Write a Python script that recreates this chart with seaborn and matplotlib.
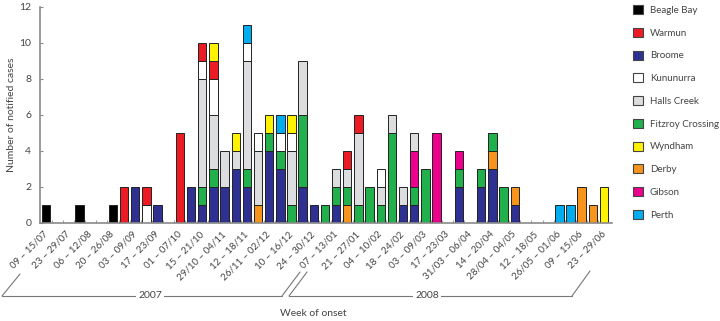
import numpy as np
import pandas as pd
import matplotlib
matplotlib.use("Agg")
import matplotlib.pyplot as plt
import seaborn as sns
from matplotlib.patches import Patch
from matplotlib.lines import Line2D

# ---------------- data ----------------
week_labels = ["09 – 15/07", "23 – 29/07", "06 – 12/08", "20 – 26/08", "03 – 09/09",
               "17 – 23/09", "01 – 07/10", "15 – 21/10", "29/10 – 04/11", "12 – 18/11",
               "26/11 – 02/12", "10 – 16/12", "24 – 30/12", "07 – 13/01", "21 – 27/01",
               "04 – 10/02", "18 – 24/02", "03 – 09/03", "17 – 23/03", "31/03 – 06/04",
               "14 – 20/04", "28/04 – 04/05", "12 – 18/05", "26/05 – 01/06", "09 – 15/06",
               "23 – 29/06"]

legend_order = ["Beagle Bay", "Warmun", "Broome", "Kununurra", "Halls Creek",
                "Fitzroy Crossing", "Wyndham", "Derby", "Gibson", "Perth"]

#                 weeks 0-9                    10-19                        20-29                        30-39                        40-50
beagle_bay  = [1,0,0,1,0,0,1,0,0,0,  0,0,0,0,0,0,0,0,0,0,  0,0,0,0,0,0,0,0,0,0,  0,0,0,0,0,0,0,0,0,0,  0,0,0,0,0,0,0,0,0,0,0]
warmun      = [0,0,0,0,0,0,0,2,0,1,  0,0,5,0,1,1,0,0,0,0,  0,0,0,0,0,0,0,1,1,0,  0,0,0,0,0,0,0,0,0,0,  0,0,0,0,0,0,0,0,0,0,0]
broome      = [0,0,0,0,0,0,0,0,2,0,  1,0,0,2,1,2,2,3,2,0,  4,3,0,2,1,0,1,0,0,0,  0,0,1,1,0,0,0,2,0,2,  3,0,1,0,0,0,0,0,0,0,0]
kununurra   = [0,0,0,0,0,0,0,0,0,1,  0,0,0,0,1,2,0,0,1,1,  0,1,1,0,0,0,0,0,0,0,  1,0,0,0,0,0,0,0,0,0,  0,0,0,0,0,0,0,0,0,0,0]
halls_creek = [0,0,0,0,0,0,0,0,0,0,  0,0,0,0,6,3,2,1,6,3,  0,0,3,3,0,0,1,1,4,0,  1,1,1,1,0,0,0,0,0,0,  0,0,0,0,0,0,0,0,0,0,0]
fitzroy     = [0,0,0,0,0,0,0,0,0,0,  0,0,0,0,1,1,0,0,1,0,  1,1,1,4,0,1,1,1,1,2,  1,5,0,1,3,0,0,1,0,1,  1,2,0,0,0,0,0,0,0,0,0]
wyndham     = [0,0,0,0,0,0,0,0,0,0,  0,0,0,0,0,1,0,1,0,0,  1,0,1,0,0,0,0,0,0,0,  0,0,0,0,0,0,0,0,0,0,  0,0,0,0,0,0,0,0,0,0,2]
derby       = [0,0,0,0,0,0,0,0,0,0,  0,0,0,0,0,0,0,0,0,1,  0,0,0,0,0,0,0,1,0,0,  0,0,0,0,0,0,0,0,0,0,  1,0,1,0,0,0,0,0,2,1,0]
gibson      = [0,0,0,0,0,0,0,0,0,0,  0,0,0,0,0,0,0,0,0,0,  0,0,0,0,0,0,0,0,0,0,  0,0,0,2,0,5,0,1,0,0,  0,0,0,0,0,0,0,0,0,0,0]
perth       = [0,0,0,0,0,0,0,0,0,0,  0,0,0,0,0,0,0,0,1,0,  0,1,0,0,0,0,0,0,0,0,  0,0,0,0,0,0,0,0,0,0,  0,0,0,0,0,0,1,1,0,0,0]

counts = {
    "Beagle Bay": beagle_bay, "Warmun": warmun, "Broome": broome,
    "Kununurra": kununurra, "Halls Creek": halls_creek, "Fitzroy Crossing": fitzroy,
    "Wyndham": wyndham, "Derby": derby, "Gibson": gibson, "Perth": perth,
}

colors = {
    "Beagle Bay": "#000000", "Warmun": "#ED1C24", "Broome": "#2E3192",
    "Kununurra": "#FFFFFF", "Halls Creek": "#DCDDDE", "Fitzroy Crossing": "#21B04B",
    "Wyndham": "#FFF200", "Derby": "#F7941D", "Gibson": "#EC008C", "Perth": "#00AEEF",
}

rows = []
for loc, vals in counts.items():
    for w, v in enumerate(vals):
        if v > 0:
            rows.append((w, loc, v))
df = pd.DataFrame(rows, columns=["week", "location", "cases"])

stack_bottom_to_top = sorted(legend_order)
hue_order = stack_bottom_to_top[::-1]  # seaborn puts first hue level on top

# ---------------- plot ----------------
sns.set_style("white")
plt.rcParams['font.family'] = ['Lato', 'DejaVu Sans']
TXT = "#444444"
GREY = "#8a8a8a"

W, H = 720, 321
fig = plt.figure(figsize=(7.2, 3.21), dpi=100)
ax_l, ax_r, ax_t, ax_b = 39.5, 612, 7, 223
ax = fig.add_axes([ax_l / W, 1 - ax_b / H, (ax_r - ax_l) / W, (ax_b - ax_t) / H])

sns.histplot(data=df, x="week", weights="cases", hue="location", hue_order=hue_order,
             multiple="stack", discrete=True, shrink=0.75, binrange=(0, 50),
             palette=colors, edgecolor="#222222", linewidth=0.7, alpha=1,
             legend=False, ax=ax)

for p in list(ax.patches):
    if p.get_height() == 0:
        p.remove()

ax.set_xlim(-0.58, 50.72)
ax.set_ylim(0, 12)
ax.set_xlabel("")
ax.set_ylabel("")

ax.set_yticks(range(0, 13, 2))
ax.tick_params(axis='y', direction='in', length=2.5, color=GREY, labelsize=7.5,
               labelcolor=TXT, pad=6, left=True)
ax.set_xticks(range(0, 51, 2))
ax.set_xticklabels(week_labels, rotation=45, ha='right', va='center',
                   rotation_mode='anchor')
ax.tick_params(axis='x', which='major', length=0, labelsize=7, labelcolor=TXT, pad=7)
ax.set_xticks(np.arange(0.5, 50, 1), minor=True)
ax.tick_params(axis='x', which='minor', direction='in', length=2.5, color=GREY,
               bottom=True)

for s in ["top", "right"]:
    ax.spines[s].set_visible(False)
for s in ["left", "bottom"]:
    ax.spines[s].set_color(GREY)
    ax.spines[s].set_linewidth(1.2)

# y label
fig.text(12 / W, 1 - 115 / H, "Number of notified cases", rotation=90,
         ha='center', va='center', fontsize=7.5, color=TXT)

# legend
handles = [Patch(facecolor=colors[k], edgecolor="#444444", linewidth=0.8, label=k)
           for k in legend_order]
fig.legend(handles=handles, loc='upper left', bbox_to_anchor=(632.5 / W, 1 - 5 / H),
           frameon=False, fontsize=7.0, handlelength=1.05, handleheight=1.05,
           handletextpad=0.75, labelspacing=1.33, borderpad=0, borderaxespad=0,
           labelcolor=TXT)

# year brackets
def fline(xs, ys):
    fig.add_artist(Line2D([x / W for x in xs], [1 - y / H for y in ys],
                          color="#777777", linewidth=0.8))

fline([2, 20], [296, 274])
fline([2, 282], [296, 296])
fline([282, 300], [296, 272])
fline([289, 307], [296, 272])
fline([289, 572], [296, 296])
fline([572, 590], [296, 271])

for x, t in [(150, "2007"), (427, "2008")]:
    fig.text(x / W, 1 - 296 / H, t, ha='center', va='center', fontsize=7.5, color=TXT,
             bbox=dict(facecolor='white', edgecolor='none', pad=1.5))

fig.text(313 / W, 1 - 314 / H, "Week of onset", ha='center', va='center',
         fontsize=7.5, color=TXT)

fig.savefig("out.png", dpi=100)
